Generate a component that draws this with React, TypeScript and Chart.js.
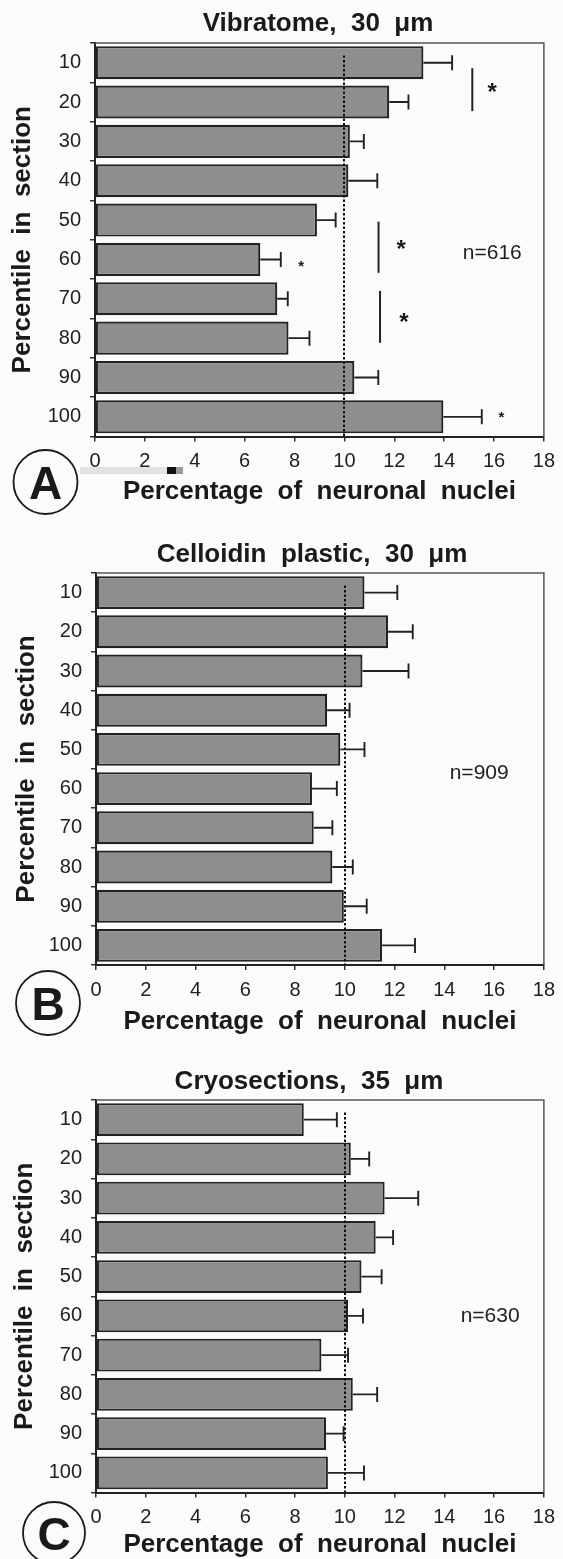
import React, { useEffect, useRef } from 'react';
import { Chart, registerables } from 'chart.js';

Chart.register(...registerables);

// ---------- data ----------
const percentiles = ['10', '20', '30', '40', '50', '60', '70', '80', '90', '100'];

const vibratomeMeans = [13.17, 11.8, 10.22, 10.16, 8.9, 6.63, 7.31, 7.76, 10.4, 13.97];
const vibratomeErrors = [1.15, 0.77, 0.56, 1.16, 0.75, 0.82, 0.42, 0.84, 0.96, 1.54];

const celloidinMeans = [10.79, 11.74, 10.71, 9.29, 9.82, 8.68, 8.75, 9.5, 9.96, 11.5];
const celloidinErrors = [1.32, 0.99, 1.85, 0.9, 0.97, 1.0, 0.75, 0.82, 0.92, 1.32];

const cryoMeans = [8.35, 10.24, 11.6, 11.24, 10.67, 10.13, 9.06, 10.32, 9.25, 9.32];
const cryoErrors = [1.33, 0.74, 1.35, 0.7, 0.81, 0.6, 1.07, 0.98, 0.7, 1.45];

const panelTitles = ['Vibratome,  30  μm', 'Celloidin  plastic,  30  μm', 'Cryosections,  35  μm'];
const panelLetters = ['A', 'B', 'C'];
const sampleSizes = ['n=616', 'n=909', 'n=630'];
// position of the n= label: [x value, category index]
const sampleSizeAt = [[15.93, 4.83], [15.4, 4.6], [15.84, 5.02]];
const xAxisTitle = 'Percentage  of  neuronal  nuclei';
const yAxisTitle = 'Percentile  in  section';
const referenceLevel = 10;
const xMin = 0;
const xMax = 18;
const xStep = 2;

// significance annotations (panel A): [x value, from index, to index]
const bracketsA = [
  [15.13, 0.14, 1.23],
  [11.37, 4.04, 5.34],
  [11.43, 5.8, 7.12],
];
// stars (panel A): [x value, index, big?]
const starsA: [number, number, boolean][] = [
  [15.93, 0.61, true],
  [12.28, 4.575, true],
  [12.39, 6.44, true],
  [8.27, 5.08, false],
  [16.3, 8.9, false],
];

const meansList = [vibratomeMeans, celloidinMeans, cryoMeans];
const errorsList = [vibratomeErrors, celloidinErrors, cryoErrors];
const bracketsList = [bracketsA, [], []];
const starsList = [starsA, [], []];

// ---------- layout / style ----------
const FONT = "'Liberation Sans', Arial, Helvetica, sans-serif";
const CANVAS_H = 540;
const layouts = [
  { top: 0, padTop: 43, yWidth: 95, padRight: 15, xHeight: 103.5, yTitlePad: 7.7, xTitlePad: 32.4, titleX: 318, titleY: 23.5, circle: [45.5, 482, 32], scanMark: true },
  { top: 520, padTop: 53, yWidth: 96, padRight: 13, xHeight: 95, yTitlePad: 11.4, xTitlePad: 22.9, titleX: 312, titleY: 35, circle: [48, 483, 32], scanMark: false },
  { top: 1040, padTop: 60, yWidth: 96, padRight: 13, xHeight: 87.5, yTitlePad: 9.4, xTitlePad: 19.4, titleX: 309, titleY: 41.7, circle: [54, 493, 31], scanMark: false },
];

function makeDecor(idx: number) {
  const L = layouts[idx];
  return {
    id: 'decor' + idx,
    afterDatasetsDraw(chart: any) {
      const { ctx, chartArea } = chart;
      const xs = chart.scales.x;
      const ys = chart.scales.y;
      const means = meansList[idx];
      const errs = errorsList[idx];
      ctx.save();
      // reference dotted line
      ctx.strokeStyle = '#111';
      ctx.lineWidth = 2;
      ctx.setLineDash([2.5, 2]);
      const rx = Math.round(xs.getPixelForValue(referenceLevel));
      ctx.beginPath();
      ctx.moveTo(rx, ys.getPixelForValue(-0.18));
      ctx.lineTo(rx, chartArea.bottom);
      ctx.stroke();
      ctx.setLineDash([]);
      // error bars
      ctx.strokeStyle = '#222';
      ctx.lineWidth = 1.9;
      means.forEach((m, i) => {
        const y = ys.getPixelForValue(i);
        const x0 = xs.getPixelForValue(m);
        const x1 = xs.getPixelForValue(m + errs[i]);
        ctx.beginPath();
        ctx.moveTo(x0, y);
        ctx.lineTo(x1, y);
        ctx.moveTo(x1, y - 7.5);
        ctx.lineTo(x1, y + 7.5);
        ctx.stroke();
      });
      // brackets
      ctx.lineWidth = 2;
      bracketsList[idx].forEach(([v, a, b]) => {
        const x = xs.getPixelForValue(v);
        ctx.beginPath();
        ctx.moveTo(x, ys.getPixelForValue(a));
        ctx.lineTo(x, ys.getPixelForValue(b));
        ctx.stroke();
      });
      // stars
      ctx.fillStyle = '#1a1a1a';
      ctx.textAlign = 'center';
      ctx.textBaseline = 'alphabetic';
      starsList[idx].forEach(([v, i, big]) => {
        const size = big ? 24 : 15;
        ctx.font = `bold ${size}px ${FONT}`;
        ctx.fillText('*', xs.getPixelForValue(v), ys.getPixelForValue(i) + 0.575 * size);
      });
      // n=
      ctx.font = `21px ${FONT}`;
      ctx.textBaseline = 'middle';
      ctx.fillStyle = '#222';
      const [nv, ni] = sampleSizeAt[idx];
      ctx.fillText(sampleSizes[idx], xs.getPixelForValue(nv), ys.getPixelForValue(ni));
      ctx.restore();
    },
    afterDraw(chart: any) {
      const { ctx, chartArea } = chart;
      ctx.save();
      // top & right frame
      ctx.strokeStyle = '#555';
      ctx.lineWidth = 1.5;
      ctx.beginPath();
      ctx.moveTo(chartArea.left, chartArea.top);
      ctx.lineTo(chartArea.right, chartArea.top);
      ctx.lineTo(chartArea.right, chartArea.bottom);
      ctx.stroke();
      // title
      ctx.fillStyle = '#1a1a1a';
      ctx.font = `bold 26px ${FONT}`;
      ctx.textAlign = 'center';
      ctx.textBaseline = 'middle';
      ctx.fillText(panelTitles[idx], L.titleX, L.titleY);
      // panel letter in circle
      const [cx, cy, r] = L.circle;
      ctx.strokeStyle = '#1a1a1a';
      ctx.lineWidth = 1.8;
      ctx.beginPath();
      ctx.arc(cx, cy, r, 0, Math.PI * 2);
      ctx.stroke();
      ctx.font = `bold 46px ${FONT}`;
      ctx.textBaseline = 'alphabetic';
      ctx.fillText(panelLetters[idx], cx, cy + 16.5);
      if (L.scanMark) {
        ctx.fillStyle = '#e2e2e2';
        ctx.fillRect(80, 467, 87, 7);
        ctx.fillStyle = '#111';
        ctx.fillRect(167, 467, 9, 7);
        ctx.fillStyle = '#9a9a9a';
        ctx.fillRect(176, 467, 7, 7);
      }
      ctx.restore();
    },
  };
}

function Panel({ idx }: { idx: number }) {
  const ref = useRef<HTMLCanvasElement>(null);
  const L = layouts[idx];
  useEffect(() => {
    if (!ref.current) return;
    const chart = new Chart(ref.current, {
      type: 'bar',
      data: {
        labels: percentiles,
        datasets: [
          {
            data: meansList[idx],
            backgroundColor: '#8e8e8e',
            borderColor: '#222',
            borderWidth: 2.2,
            borderSkipped: false,
            barPercentage: 0.84,
            categoryPercentage: 1,
          },
        ],
      },
      options: {
        indexAxis: 'y',
        responsive: false,
        animation: false,
        devicePixelRatio: 1,
        layout: { padding: { top: L.padTop, right: L.padRight, left: 0, bottom: 0 } },
        plugins: {
          legend: { display: false },
          tooltip: { enabled: false },
          title: { display: false },
        },
        scales: {
          x: {
            type: 'linear',
            min: xMin,
            max: xMax,
            afterFit: (s: any) => {
              s.height = L.xHeight;
            },
            ticks: { stepSize: xStep, padding: 8, color: '#222', font: { size: 20, family: FONT } },
            grid: { drawOnChartArea: false, drawTicks: true, tickLength: 5, color: '#333', lineWidth: 1.5 },
            border: { display: true, color: '#222', width: 2 },
            title: {
              display: true,
              text: xAxisTitle,
              color: '#1a1a1a',
              font: { size: 26, weight: 'bold', family: FONT },
              padding: { top: 0, bottom: L.xTitlePad },
            },
          },
          y: {
            type: 'category',
            afterFit: (s: any) => {
              s.width = L.yWidth;
            },
            ticks: { padding: 9, color: '#222', font: { size: 20, family: FONT } },
            grid: { offset: true, drawOnChartArea: false, drawTicks: true, tickLength: 5, color: '#333', lineWidth: 1.5 },
            border: { display: true, color: '#222', width: 2 },
            title: {
              display: true,
              text: yAxisTitle,
              color: '#1a1a1a',
              font: { size: 26, weight: 'bold', family: FONT },
              padding: { top: L.yTitlePad, bottom: 0 },
            },
          },
        },
      } as any,
      plugins: [makeDecor(idx)],
    });
    return () => chart.destroy();
  }, [idx]);
  return (
    <canvas
      ref={ref}
      width={563}
      height={CANVAS_H}
      style={{ position: 'absolute', left: 0, top: L.top, width: 563, height: CANVAS_H }}
    />
  );
}

export default function App() {
  return (
    <div
      style={{
        position: 'absolute',
        left: 0,
        top: 0,
        width: 563,
        height: 1559,
        overflow: 'hidden',
        background: '#fbfbfb',
      }}
    >
      <Panel idx={0} />
      <Panel idx={1} />
      <Panel idx={2} />
    </div>
  );
}
